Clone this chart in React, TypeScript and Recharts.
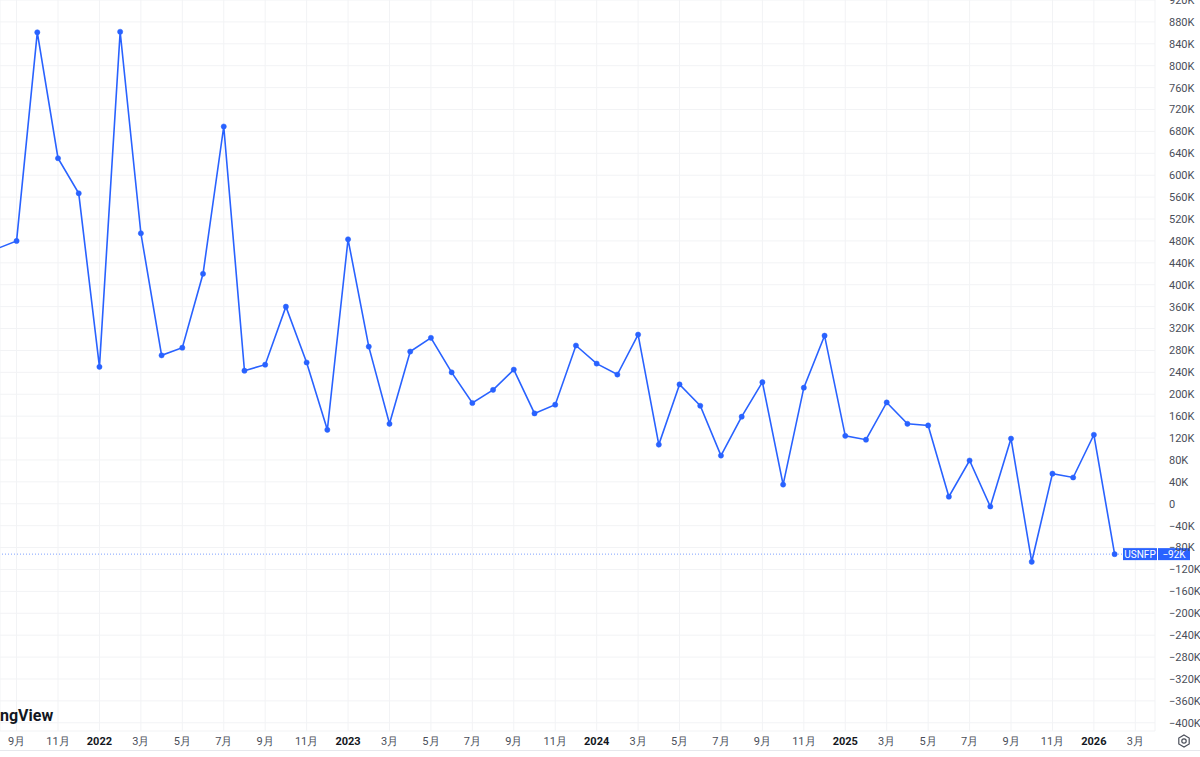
import React from 'react'
import { LineChart, Line, XAxis, YAxis, CartesianGrid, ReferenceLine } from 'recharts'

// month index 0 = 2021-09, so -1 = 2021-08
const monthIndex = [
  -1, 0, 1, 2, 3, 4, 5, 6, 7, 8, 9, 10, 11, 12, 13, 14, 15, 16, 17, 18, 19, 20, 21, 22, 23, 24, 25,
  26, 27, 28, 29, 30, 31, 32, 33, 34, 35, 36, 37, 38, 39, 40, 41, 42, 43, 44, 45, 46, 47, 48, 49, 50,
  51, 52, 53,
]

// USNFP, thousands
const nfpValues = [
  465, 480, 861, 631, 567, 250, 862, 494, 271, 285, 420, 689, 243, 254, 360, 258, 135, 483, 287, 146,
  278, 303, 240, 184, 208, 245, 165, 181, 289, 256, 236, 309, 108, 218, 179, 88, 159, 222, 35, 212,
  307, 124, 117, 185, 146, 143, 13, 79, -5, 119, -106, 55, 48, 126, -92,
]

const xTicks = [0, 2, 4, 6, 8, 10, 12, 14, 16, 18, 20, 22, 24, 26, 28, 30, 32, 34, 36, 38, 40, 42, 44, 46, 48, 50, 52, 54]
const yTicks = [
  -400, -360, -320, -280, -240, -200, -160, -120, -80, -40, 0, 40, 80, 120, 160, 200, 240, 280, 320,
  360, 400, 440, 480, 520, 560, 600, 640, 680, 720, 760, 800, 840, 880, 920,
]

const seriesName = 'USNFP'
const lastValue = nfpValues[nfpValues.length - 1]

const data = monthIndex.map((m, i) => ({ m, v: nfpValues[i] }))

const BLUE = '#2962ff'
const FONT = '-apple-system, "Trebuchet MS", Roboto, "Noto Sans", sans-serif'

function fmtK(v: number) {
  if (v === 0) return '0'
  return (v < 0 ? '\u2212' : '') + Math.abs(v) + 'K'
}

function MonthTick(props: any) {
  const { x, y, payload } = props
  const idx = payload.value as number
  const month = ((8 + idx) % 12) + 1
  const year = 2021 + Math.floor((8 + idx) / 12)
  const isYear = month === 1
  return (
    <text
      x={x}
      y={y + 6}
      textAnchor="middle"
      fontSize={11}
      fontFamily={FONT}
      fontWeight={isYear ? 700 : 400}
      fill={isYear ? '#131722' : '#4a4e59'}
    >
      {isYear ? String(year) : month + '月'}
    </text>
  )
}

function Badge(props: any) {
  const { viewBox } = props
  const y = viewBox.y
  const x0 = viewBox.x + viewBox.width - 32
  return (
    <g>
      <rect x={x0} y={y - 6} width={34} height={12} fill={BLUE} />
      <text x={x0 + 17} y={y + 3.5} textAnchor="middle" fontSize={10} fontFamily={FONT} fill="#fff">
        {seriesName}
      </text>
      <rect x={x0 + 35} y={y - 6} width={32} height={12} fill={BLUE} />
      <text x={x0 + 51} y={y + 3.5} textAnchor="middle" fontSize={10} fontFamily={FONT} fill="#fff">
        {fmtK(lastValue)}
      </text>
    </g>
  )
}

export default function App() {
  return (
    <div style={{ position: 'absolute', left: 0, top: 0, width: 1200, height: 757, background: '#fff' }}>
      <LineChart width={1200} height={757} data={data} margin={{ top: 0, right: 0, bottom: 0, left: 0 }}>
        <CartesianGrid stroke="#f2f3f5" vertical horizontal />
        <XAxis
          dataKey="m"
          type="number"
          domain={[-0.8, 54.95]}
          allowDataOverflow
          ticks={xTicks}
          interval={0}
          height={26}
          axisLine={false}
          tickLine={false}
          tick={<MonthTick />}
        />
        <YAxis
          orientation="right"
          type="number"
          domain={[-415, 920]}
          allowDataOverflow
          ticks={yTicks}
          interval={0}
          width={45}
          axisLine={false}
          tickLine={false}
          tickMargin={8}
          tickFormatter={fmtK}
          tick={{ fontSize: 11, fill: '#4a4e59', fontFamily: FONT, textAnchor: 'start' }}
        />
        <Line
          type="linear"
          dataKey="v"
          stroke={BLUE}
          strokeWidth={1.6}
          dot={{ r: 2.6, fill: BLUE, stroke: BLUE, strokeWidth: 0.5 }}
          isAnimationActive={false}
        />
        <ReferenceLine y={lastValue} stroke={BLUE} strokeOpacity={0.6} strokeDasharray="1 2" label={<Badge />} />
      </LineChart>
      <div
        style={{
          position: 'absolute',
          left: 0,
          top: 706,
          fontFamily: FONT,
          fontWeight: 700,
          fontSize: 16,
          color: '#131722',
          lineHeight: '20px',
        }}
      >
        ngView
      </div>
      <div style={{ position: 'absolute', left: 0, top: 750, width: 1200, height: 1, background: '#e6e8ec' }} />
      <svg style={{ position: 'absolute', left: 1177, top: 734 }} width={14} height={14}>
        <polygon points="7,1 12.2,4 12.2,10 7,13 1.8,10 1.8,4" fill="none" stroke="#4a4e59" strokeWidth={1.2} />
        <circle cx={7} cy={7} r={2.2} fill="none" stroke="#4a4e59" strokeWidth={1.2} />
      </svg>
    </div>
  )
}
